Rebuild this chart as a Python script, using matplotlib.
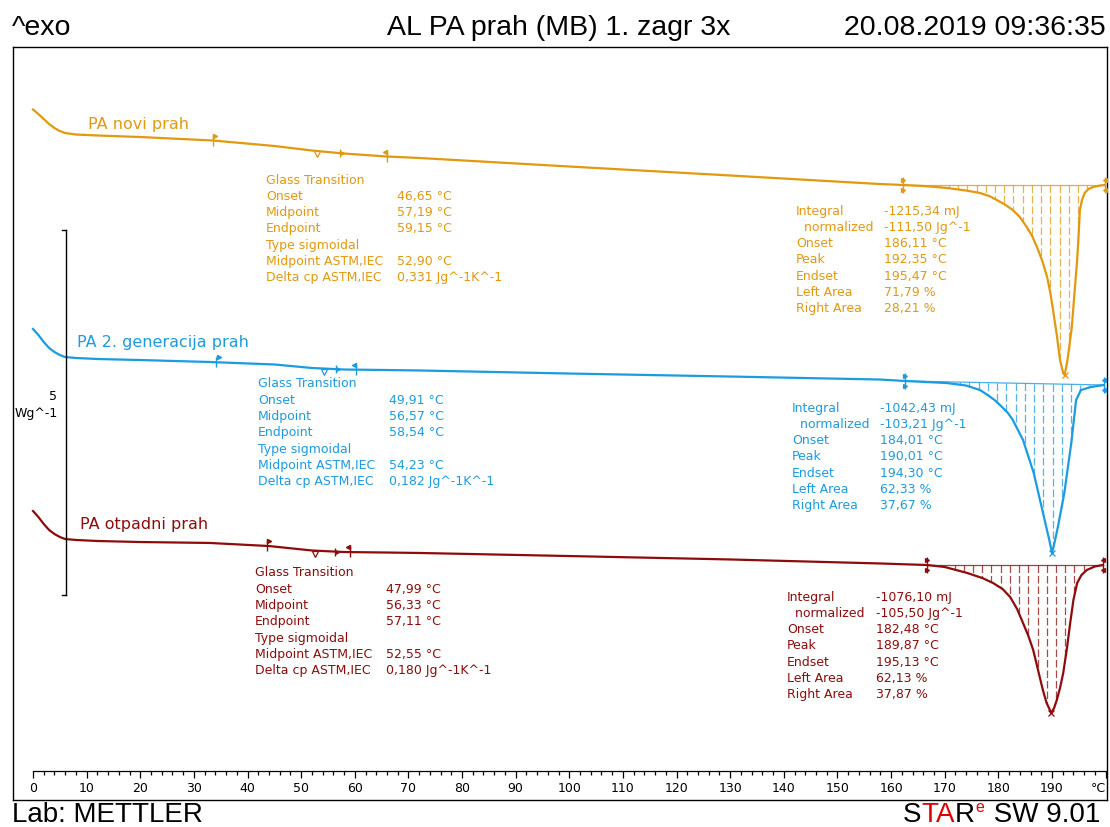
import numpy as np
import matplotlib
matplotlib.use("Agg")
import matplotlib.pyplot as plt
from matplotlib.transforms import offset_copy

# ---------------- data (temperature in °C, heat flow in W/g incl. curve offset) -------------
temp_novi = [0, 1, 2, 3, 4, 5, 6, 8, 12, 20, 33.6, 45, 52, 58, 66, 72, 100, 130, 157.9, 162.2,
             166, 170.4, 174, 176.6, 178.5, 179.7, 181.2, 182.7, 184, 185.3, 186.3, 187.2, 188.2,
             189.1, 189.7, 190.2, 190.9, 191.5, 192.1, 192.35, 192.8, 193.2, 193.7, 194.2, 194.7,
             195.0, 195.2, 195.6, 196.1, 196.8, 197.7, 199, 199.9]
hf_novi = [9.459, 9.397, 9.329, 9.260, 9.205, 9.164, 9.137, 9.116, 9.103, 9.082, 9.034, 8.959,
           8.897, 8.856, 8.815, 8.795, 8.678, 8.555, 8.438, 8.425, 8.411, 8.384, 8.349, 8.315,
           8.267, 8.219, 8.158, 8.082, 7.986, 7.849, 7.726, 7.575, 7.384, 7.164, 6.945, 6.712,
           6.370, 6.027, 5.849, 5.822, 5.986, 6.192, 6.479, 6.945, 7.397, 7.781, 8.082, 8.219,
           8.315, 8.370, 8.397, 8.418, 8.425]

temp_gen2 = [0, 1, 2, 3, 4, 5, 6, 8, 12, 20, 33, 45, 52, 58, 66, 72, 100, 130, 157.9, 162.6,
             170.4, 174, 176.6, 178, 179.3, 180.5, 181.8, 182.7, 184.6, 186.6, 188.5, 189.5,
             190.01, 190.5, 191.1, 192.3, 193.6, 194.5, 195.4, 197.3, 199.7]
hf_gen2 = [6.452, 6.370, 6.274, 6.192, 6.137, 6.096, 6.068, 6.055, 6.041, 6.027, 6.000, 5.966,
           5.918, 5.897, 5.890, 5.884, 5.842, 5.801, 5.760, 5.740, 5.712, 5.678, 5.616, 5.548,
           5.479, 5.397, 5.301, 5.205, 4.932, 4.479, 3.877, 3.562, 3.384, 3.534, 3.740, 4.205,
           4.890, 5.479, 5.616, 5.658, 5.685]

temp_otp = [0, 1, 2, 3, 4, 5, 6, 8, 12, 20, 33, 44, 52, 58, 66, 72, 100, 130, 158, 166.7,
            170, 174.2, 177, 179, 180.8, 182.2, 183.5, 184.6, 185.6, 186.5, 187.4, 188.3, 189.0,
            189.87, 190.4, 190.9, 191.5, 192.1, 192.8, 193.4, 194.0, 194.7, 195.5, 196.5, 198, 199.5]
hf_otp = [3.959, 3.877, 3.781, 3.699, 3.644, 3.603, 3.575, 3.562, 3.548, 3.534, 3.521, 3.479,
          3.418, 3.397, 3.390, 3.384, 3.342, 3.295, 3.240, 3.219, 3.192, 3.110, 3.041, 2.973,
          2.890, 2.781, 2.616, 2.425, 2.247, 2.055, 1.781, 1.507, 1.329, 1.192, 1.260, 1.370,
          1.534, 1.740, 2.082, 2.425, 2.740, 2.973, 3.082, 3.151, 3.199, 3.219]

curve_names = ["PA novi prah", "PA 2. generacija prah", "PA otpadni prah"]

# glass transition: left limit, midpoint ASTM, midpoint, right limit
tg_marks_novi = [33.6, 52.90, 57.19, 66.0]
tg_marks_gen2 = [34.2, 54.23, 56.57, 60.2]
tg_marks_otp = [43.6, 52.55, 56.33, 59.1]

# integration limits and peak
int_novi = [162.2, 199.9, 192.35]
int_gen2 = [162.6, 199.7, 190.01]
int_otp = [166.7, 199.5, 189.87]

tg_labels = ["Glass Transition", "Onset", "Midpoint", "Endpoint", "Type sigmoidal",
             "Midpoint ASTM,IEC", "Delta cp ASTM,IEC"]
tg_vals_novi = ["", "46,65 °C", "57,19 °C", "59,15 °C", "", "52,90 °C", "0,331 Jg^-1K^-1"]
tg_vals_gen2 = ["", "49,91 °C", "56,57 °C", "58,54 °C", "", "54,23 °C", "0,182 Jg^-1K^-1"]
tg_vals_otp = ["", "47,99 °C", "56,33 °C", "57,11 °C", "", "52,55 °C", "0,180 Jg^-1K^-1"]

int_labels = ["Integral", "  normalized", "Onset", "Peak", "Endset", "Left Area", "Right Area"]
int_vals_novi = ["-1215,34 mJ", "-111,50 Jg^-1", "186,11 °C", "192,35 °C", "195,47 °C",
                 "71,79 %", "28,21 %"]
int_vals_gen2 = ["-1042,43 mJ", "-103,21 Jg^-1", "184,01 °C", "190,01 °C", "194,30 °C",
                 "62,33 %", "37,67 %"]
int_vals_otp = ["-1076,10 mJ", "-105,50 Jg^-1", "182,48 °C", "189,87 °C", "195,13 °C",
                "62,13 %", "37,87 %"]

x_major = list(range(0, 201, 10))
x_labels = [str(v) for v in range(0, 191, 10)] + ["°C"]

header_left = "^exo"
header_title = "AL PA prah (MB) 1. zagr 3x"
header_date = "20.08.2019 09:36:35"
footer_left = "Lab: METTLER"
scale_value = 5  # W/g

# ---------------- layout ----------------
W, H, DPI = 1110, 827, 100
fig = plt.figure(figsize=(W / DPI, H / DPI), dpi=DPI)
fig.patch.set_facecolor("white")


def fx(p):
    return p / W


def fy(p):
    return 1 - p / H


X0PX, PXDEG, PXWG = 33.0, 5.363, 73.0
L, R, T, B = 13, 1107, 47, 800
ax = fig.add_axes([fx(L), fy(B), fx(R) - fx(L), fy(T) - fy(B)])
xlim = ((L - X0PX) / PXDEG, (R - X0PX) / PXDEG)
ax.set_xlim(*xlim)
ax.set_ylim(0, (B - T) / PXWG)
ax.set_xticks([])
ax.set_yticks([])
for s in ax.spines.values():
    s.set_linewidth(1.0)
    s.set_color("black")

# temperature axis inside the frame
axx = fig.add_axes([fx(L), fy(771), fx(R) - fx(L), 0.0005])
axx.set_xlim(*xlim)
axx.patch.set_visible(False)
for k in ["top", "left", "right"]:
    axx.spines[k].set_visible(False)
axx.spines["bottom"].set_bounds(0, 200)
axx.spines["bottom"].set_linewidth(0.9)
axx.set_yticks([])
axx.set_xticks(x_major)
axx.set_xticks(np.arange(0, 201, 2), minor=True)
axx.set_xticklabels(x_labels, fontsize=9, family="DejaVu Sans")
axx.get_xticklabels()[-1].set_ha("right")
axx.tick_params(axis="x", which="major", direction="out", length=5, width=0.9, pad=3)
axx.tick_params(axis="x", which="minor", direction="out", length=3, width=0.9)

COL = ["#E3980F", "#1C9BE2", "#8E0B0B"]
curves = [(temp_novi, hf_novi, tg_marks_novi, int_novi),
          (temp_gen2, hf_gen2, tg_marks_gen2, int_gen2),
          (temp_otp, hf_otp, tg_marks_otp, int_otp)]


def off(dx, dy):
    return offset_copy(ax.transData, fig=fig, x=dx, y=dy, units="points")


for (t, h, tgm, intg), c in zip(curves, COL):
    t = np.asarray(t)
    h = np.asarray(h)
    ax.plot(t, h, color=c, lw=1.6, solid_joinstyle="round", zorder=3)
    # glass transition marks
    l1, astm, mid, l2 = tgm
    y = np.interp(l1, t, h)
    ax.plot([l1], [y], marker="|", ms=7, mew=1.0, color=c, zorder=4)
    ax.plot([l1], [y], marker=">", ms=3, color=c, transform=off(1.6, 3.5), zorder=4)
    y = np.interp(astm, t, h)
    ax.plot([astm], [y], marker="v", ms=5, mfc="white", mec=c, mew=0.9, transform=off(0, -2.2), zorder=4)
    y = np.interp(mid, t, h)
    ax.plot([mid], [y], marker="|", ms=6, mew=1.0, color=c, zorder=4)
    ax.plot([mid], [y], marker=">", ms=2.6, color=c, transform=off(1.5, 0), zorder=4)
    y = np.interp(l2, t, h)
    ax.plot([l2], [y], marker="|", ms=7, mew=1.0, color=c, zorder=4)
    ax.plot([l2], [y], marker="<", ms=3, color=c, transform=off(-1.6, 3.5), zorder=4)
    # integration baseline, hatching, limits, peak
    a, b, pk = intg
    ya, yb = np.interp(a, t, h), np.interp(b, t, h)
    ax.plot([a, b], [ya, yb], color=c, lw=0.9, alpha=0.8, zorder=2)
    for xs in np.arange(a + 1.7, b, 1.72):
        ybase = ya + (yb - ya) * (xs - a) / (b - a)
        yc = np.interp(xs, t, h)
        if ybase - yc > 0.03:
            ax.plot([xs, xs], [ybase, yc], color=c, lw=0.9, alpha=0.75,
                    ls=(0, (6.0, 2.4)), zorder=2)
    for xx, yy, m in [(a, ya, ">"), (b, yb, "<")]:
        ax.plot([xx], [yy], marker="|", ms=11, mew=1.0, color=c, zorder=4)
        ax.plot([xx], [yy], marker=m, ms=2.8, color=c, transform=off(0, 3.8), zorder=4)
        ax.plot([xx], [yy], marker=m, ms=2.8, color=c, transform=off(0, -3.8), zorder=4)
    ax.plot([pk], [np.interp(pk, t, h)], marker="x", ms=4, mew=0.9, color=c, zorder=5)


def txt(x, y, s, color="black", size=9, ha="left", family="DejaVu Sans", **kw):
    return fig.text(fx(x), fy(y), s, color=color, fontsize=size, ha=ha, va="center",
                    family=family, **kw)


# curve names
for name, (xp, yp), c in zip(curve_names, [(88, 125), (77, 342), (80, 524)], COL):
    txt(xp, yp, name, c, size=11.5)

# tables
STEP = 16.3
tg_tables = [(tg_vals_novi, 266, 397, 180), (tg_vals_gen2, 258, 389, 384), (tg_vals_otp, 255, 386, 573)]
int_tables = [(int_vals_novi, 796, 884, 211), (int_vals_gen2, 792, 880, 408), (int_vals_otp, 787, 876, 597)]
for (vals, xl, xv, y0), c in zip(tg_tables, COL):
    for i, (lab, v) in enumerate(zip(tg_labels, vals)):
        txt(xl, y0 + i * STEP, lab, c)
        if v:
            txt(xv, y0 + i * STEP, v, c)
for (vals, xl, xv, y0), c in zip(int_tables, COL):
    for i, (lab, v) in enumerate(zip(int_labels, vals)):
        txt(xl, y0 + i * STEP, lab, c)
        txt(xv, y0 + i * STEP, v, c)

# scale bar (5 W/g)
y_top, y_bot = 230, 230 + scale_value * PXWG
fig.add_artist(plt.Line2D([fx(66), fx(66)], [fy(y_top), fy(y_bot)], color="black", lw=1.0))
for yy in (y_top, y_bot):
    fig.add_artist(plt.Line2D([fx(62), fx(66)], [fy(yy), fy(yy)], color="black", lw=1.0))
txt(57, 396, str(scale_value), ha="right")
txt(58, 413, "Wg^-1", ha="right")

# header / footer
HF = "Liberation Sans"
txt(12, 28, header_left, size=20.5, family=HF)
txt(559, 28, header_title, size=20.5, family=HF, ha="center")
txt(1106, 28, header_date, size=20.5, family=HF, ha="right")
txt(12, 815, footer_left, size=20, family=HF)

fig.canvas.draw()
renderer = fig.canvas.get_renderer()
pieces = [("S", "black", 20, 0), ("TA", "#E00000", 20, 0), ("R", "black", 20, 0),
          ("e", "#E00000", 11.5, -7), (" SW 9.01", "black", 20, 0)]
xcur = 903
for s, c, sz, dy in pieces:
    tt = txt(xcur, 815 + dy, s, c, size=sz, family=HF)
    bb = tt.get_window_extent(renderer)
    xcur += bb.width * W / (fig.get_figwidth() * fig.dpi)
    if s == "e":
        xcur += 2

fig.savefig("out.png", dpi=DPI, facecolor="white")
